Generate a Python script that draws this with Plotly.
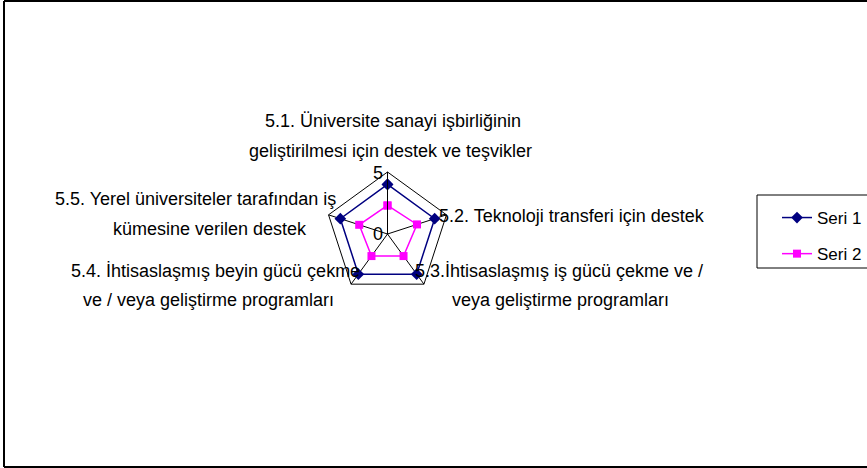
import plotly.graph_objects as go

# Radar chart: five support categories, two series on a 0-5 scale
categories = [
    "5.1. Üniversite sanayi işbirliğinin<br>geliştirilmesi için destek ve teşvikler",
    "5.2. Teknoloji transferi için destek",
    "5.3.İhtisaslaşmış iş gücü çekme ve /<br>veya geliştirme programları",
    "5.4. İhtisaslaşmış beyin gücü çekme<br>ve / veya geliştirme programları",
    "5.5. Yerel üniversiteler tarafından iş<br>kümesine verilen destek",
]
seri1 = [4.0, 4.0, 4.0, 4.0, 4.0]
seri2 = [2.3, 2.5, 2.2, 2.2, 2.4]
radial_ticks = [0, 5]

FONT = "Liberation Sans, Arial"
W, H = 867, 468


def closed(vals):
    return vals + vals[:1]


fig = go.Figure()
fig.add_trace(go.Scatterpolar(
    r=closed(seri1), theta=closed(categories), name="Seri 1",
    mode="lines+markers", legendgroup="a",
    line=dict(color="#000080", width=1.5),
    marker=dict(symbol="diamond", size=9, color="#000080"),
))
fig.add_trace(go.Scatterpolar(
    r=closed(seri2), theta=closed(categories), name="Seri 2",
    mode="lines+markers", legendgroup="b",
    line=dict(color="#FF00FF", width=1.5),
    marker=dict(symbol="square", size=8, color="#FF00FF"),
))

# Category labels: each line placed separately (centre x, centre y, anchor)
line_pos = [
    [(393, 121, "center"), (390, 151, "center")],
    [(437, 216, "left")],
    [(559, 271, "center"), (560, 300, "center")],
    [(215, 271, "center"), (208, 300, "center")],
    [(195, 199, "center"), (210, 229, "center")],
]


def px(x, y):
    return x / W, 1 - y / H


annotations = []
for cat, positions in zip(categories, line_pos):
    for text, (lx, ly, anchor) in zip(cat.split("<br>"), positions):
        ax, ay = px(lx, ly)
        annotations.append(dict(
            text=text, x=ax, y=ay, xref="paper", yref="paper",
            xanchor=anchor, yanchor="middle", showarrow=False,
            font=dict(family=FONT, size=18, color="black"),
        ))

# Radial scale labels, drawn upright beside the top spoke
for v, (lx, ly) in zip(radial_ticks, [(378, 234), (378, 173)]):
    ax, ay = px(lx, ly)
    annotations.append(dict(
        text=str(v), x=ax, y=ay, xref="paper", yref="paper",
        xanchor="center", yanchor="middle", showarrow=False,
        font=dict(family=FONT, size=18, color="black"),
    ))

cx, cy, R = 387.5, 234, 62
lx0, ly_top = px(777, 200)
frame_l, frame_t = 4 / W, 1 - 1 / H
frame_b = 1 / H
box_l, box_t = px(757, 195)
_, box_b = px(757, 268)

shapes = [
    # outer frame (open on the right)
    dict(type="line", xref="paper", yref="paper", x0=frame_l, x1=frame_l, y0=frame_b, y1=frame_t,
         line=dict(color="black", width=2)),
    dict(type="line", xref="paper", yref="paper", x0=frame_l, x1=1, y0=frame_t, y1=frame_t,
         line=dict(color="black", width=2)),
    dict(type="line", xref="paper", yref="paper", x0=frame_l, x1=1, y0=frame_b, y1=frame_b,
         line=dict(color="black", width=2)),
    # legend box
    dict(type="line", xref="paper", yref="paper", x0=box_l, x1=box_l, y0=box_b, y1=box_t,
         line=dict(color="black", width=1)),
    dict(type="line", xref="paper", yref="paper", x0=box_l, x1=1, y0=box_t, y1=box_t,
         line=dict(color="black", width=1)),
    dict(type="line", xref="paper", yref="paper", x0=box_l, x1=1, y0=box_b, y1=box_b,
         line=dict(color="black", width=1)),
]

fig.update_layout(
    width=W, height=H,
    margin=dict(l=0, r=0, t=0, b=0),
    paper_bgcolor="white",
    font=dict(family=FONT, size=17, color="black"),
    polar=dict(
        domain=dict(x=[(cx - R) / W, (cx + R) / W], y=[1 - (cy + R) / H, 1 - (cy - R) / H]),
        gridshape="linear",
        bgcolor="white",
        radialaxis=dict(
            range=[0, 5], tickvals=radial_ticks, showticklabels=False,
            angle=90,
            showline=True, linecolor="black", linewidth=1,
            showgrid=True, gridcolor="black", gridwidth=1,
            ticks="",
        ),
        angularaxis=dict(
            rotation=90, direction="clockwise",
            showticklabels=False, ticks="",
            showline=True, linecolor="black", linewidth=1,
            showgrid=True, gridcolor="black", gridwidth=1,
        ),
    ),
    legend=dict(
        x=lx0, y=ly_top, xanchor="left", yanchor="top",
        borderwidth=0, bgcolor="rgba(0,0,0,0)",
        font=dict(family=FONT, size=17, color="black"),
        itemwidth=30, tracegroupgap=11,
    ),
    annotations=annotations,
    shapes=shapes,
)

fig.write_html("out.html")
